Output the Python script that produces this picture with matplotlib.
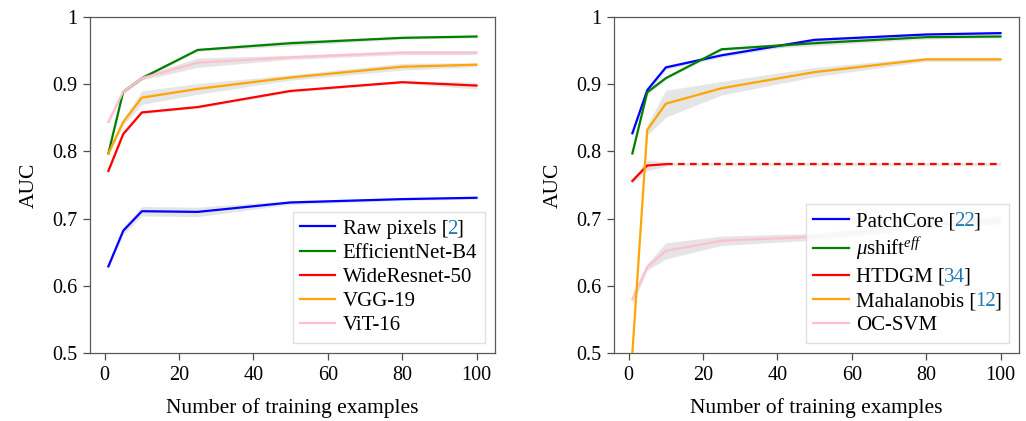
import numpy as np
import matplotlib
matplotlib.use("Agg")
import matplotlib.pyplot as plt
from matplotlib.ticker import FuncFormatter
from matplotlib.offsetbox import TextArea, HPacker

plt.rcParams['font.family'] = 'serif'
plt.rcParams['font.serif'] = ['Liberation Serif', 'DejaVu Serif']
plt.rcParams['mathtext.fontset'] = 'custom'
plt.rcParams['mathtext.rm'] = 'Liberation Serif'
plt.rcParams['mathtext.it'] = 'Liberation Serif:italic'

# number of training examples
shots = [1, 5, 10, 25, 50, 80, 100]

# left panel: feature extractors
raw_pixels = [0.629, 0.682, 0.711, 0.710, 0.724, 0.729, 0.731]
raw_pixels_sd = [0.003, 0.006, 0.007, 0.007, 0.003, 0.002, 0.002]
efficientnet = [0.797, 0.889, 0.909, 0.951, 0.961, 0.969, 0.971]
efficientnet_sd = [0.003, 0.002, 0.002, 0.002, 0.004, 0.002, 0.002]
wideresnet = [0.771, 0.826, 0.858, 0.866, 0.890, 0.903, 0.898]
wideresnet_sd = [0.004, 0.003, 0.002, 0.002, 0.002, 0.002, 0.005]
vgg19 = [0.797, 0.844, 0.880, 0.893, 0.910, 0.926, 0.929]
vgg19_sd = [0.003, 0.005, 0.010, 0.008, 0.004, 0.005, 0.003]
vit16 = [0.844, 0.889, 0.909, 0.932, 0.940, 0.947, 0.947]
vit16_sd = [0.003, 0.003, 0.003, 0.007, 0.003, 0.003, 0.003]

# right panel: methods
patchcore = [0.827, 0.891, 0.925, 0.943, 0.966, 0.974, 0.976]
patchcore_sd = [0.003, 0.006, 0.003, 0.003, 0.003, 0.002, 0.002]
mushift = [0.797, 0.888, 0.909, 0.952, 0.961, 0.970, 0.971]
mushift_sd = [0.005, 0.003, 0.002, 0.002, 0.004, 0.003, 0.002]
htdgm_shots = [1, 5, 10]
htdgm = [0.756, 0.779, 0.781]
htdgm_sd = [0.004, 0.008, 0.003]
mahalanobis = [0.500, 0.832, 0.871, 0.894, 0.918, 0.937, 0.937]
mahalanobis_sd = [0.005, 0.008, 0.020, 0.010, 0.007, 0.003, 0.003]
ocsvm = [0.580, 0.628, 0.652, 0.667, 0.673, 0.690, 0.698]
ocsvm_sd = [0.008, 0.005, 0.012, 0.007, 0.005, 0.005, 0.006]

left_series = [
    ('Raw pixels', '2', 'blue', raw_pixels, raw_pixels_sd),
    ('EfficientNet-B4', None, 'green', efficientnet, efficientnet_sd),
    ('WideResnet-50', None, 'red', wideresnet, wideresnet_sd),
    ('VGG-19', None, 'orange', vgg19, vgg19_sd),
    ('ViT-16', None, 'pink', vit16, vit16_sd),
]

cite_color = '#1f78b4'
fs = 15

fig = plt.figure(figsize=(10.26, 4.21), dpi=100)
ax1 = fig.add_axes([0.0877, 0.1615, 0.3947, 0.7981])
ax2 = fig.add_axes([0.5984, 0.1615, 0.3947, 0.7981])


def band(ax, x, y, sd):
    y = np.array(y)
    sd = np.array(sd)
    ax.fill_between(x, y - sd, y + sd, color='gray', alpha=0.2, lw=0, zorder=1)


def label_of(name, ref):
    return f"{name} [{ref}]" if ref else name


def colour_refs(leg):
    # split "name [ref]" legend labels so the ref number is blue
    for col in leg._legend_handle_box.get_children():
        for item in col.get_children():
            ta = item.get_children()[1]
            s = ta.get_text()
            if '[' not in s:
                continue
            i = s.rindex('[')
            fp = ta._text.get_fontproperties()
            parts = [TextArea(s[:i + 1], textprops=dict(color='black', fontproperties=fp)),
                     TextArea(s[i + 1:-1], textprops=dict(color=cite_color, fontproperties=fp)),
                     TextArea(']', textprops=dict(color='black', fontproperties=fp))]
            hp = HPacker(children=parts, align='baseline', pad=0, sep=-1)
            hp.set_figure(fig)
            item._children[1] = hp


for name, ref, col, y, sd in left_series:
    band(ax1, shots, y, sd)
    ax1.plot(shots, y, color=col, lw=1.6, label=label_of(name, ref), zorder=3)

band(ax2, shots, patchcore, patchcore_sd)
ax2.plot(shots, patchcore, color='blue', lw=1.6, label=label_of('PatchCore', '22'), zorder=3)
band(ax2, shots, mushift, mushift_sd)
ax2.plot(shots, mushift, color='green', lw=1.6, label=r'$\mu$shift$^{eff}$', zorder=3)
band(ax2, htdgm_shots, htdgm, htdgm_sd)
band(ax2, [htdgm_shots[-1], shots[-1]], [htdgm[-1]] * 2, [0.002, 0.002])
ax2.plot(htdgm_shots, htdgm, color='red', lw=1.6, label=label_of('HTDGM', '34'), zorder=3)
ax2.plot([htdgm_shots[-1], shots[-1]], [htdgm[-1]] * 2, color='red', lw=1.6,
         ls=(0, (3, 2.4)), zorder=3)
band(ax2, shots, mahalanobis, mahalanobis_sd)
ax2.plot(shots, mahalanobis, color='orange', lw=1.6, label=label_of('Mahalanobis', '12'), zorder=4)
band(ax2, shots, ocsvm, ocsvm_sd)
ax2.plot(shots, ocsvm, color='pink', lw=1.6, label='OC-SVM', zorder=3)

for ax in (ax1, ax2):
    ax.set_ylim(0.5, 1.0)
    ax.set_xticks([0, 20, 40, 60, 80, 100])
    ax.set_yticks([0.5, 0.6, 0.7, 0.8, 0.9, 1.0])
    ax.yaxis.set_major_formatter(FuncFormatter(lambda v, p: '%g' % round(v, 2)))
    ax.tick_params(labelsize=fs - 0.5, length=5, width=0.9, color='0.3', pad=4)
    for s in ax.spines.values():
        s.set_color('0.35')
        s.set_linewidth(0.9)
    ax.set_xlabel('Number of training examples', fontsize=fs + 0.5, labelpad=10)
    ax.set_ylabel('AUC', fontsize=fs + 0.5, labelpad=10)
    leg = ax.legend(loc='lower right', fontsize=fs, fancybox=False, edgecolor='0.85',
                    handlelength=1.7, handletextpad=0.35, labelspacing=0.22,
                    borderpad=0.35, borderaxespad=0.5)
    colour_refs(leg)

fig.savefig('out.png', dpi=100)
